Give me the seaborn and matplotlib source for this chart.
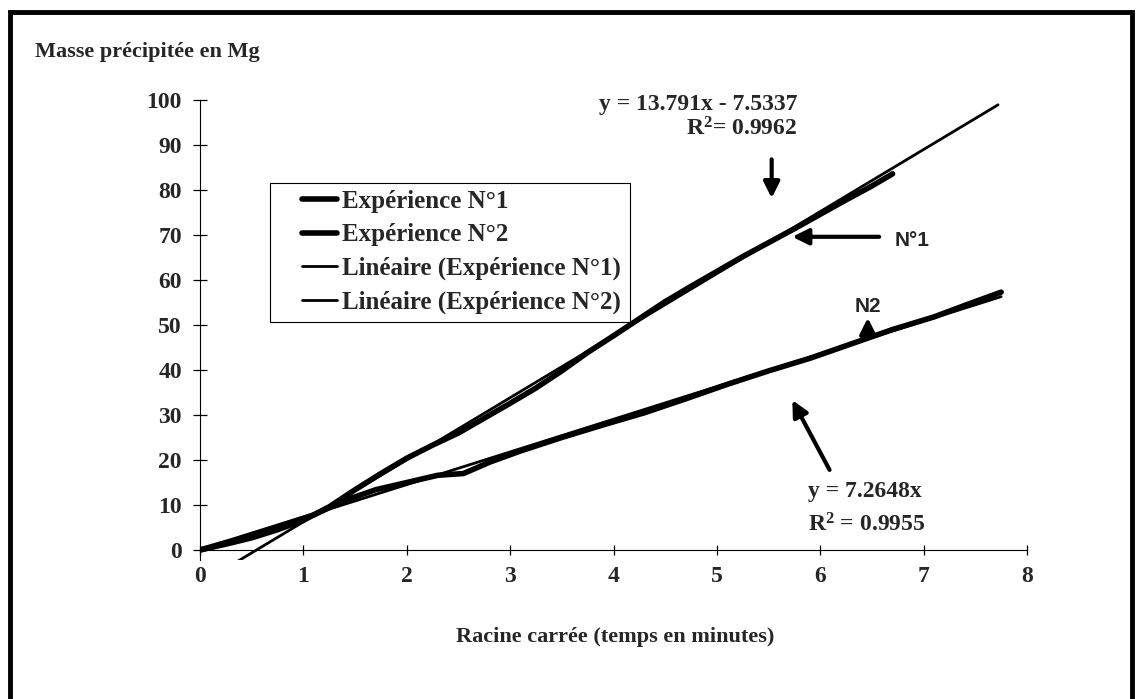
import matplotlib
matplotlib.use("Agg")
import matplotlib.pyplot as plt
import seaborn as sns
import numpy as np
import pandas as pd
from matplotlib.patches import Rectangle

# Precipitated mass vs square root of time, experiment N°1
exp1_x = [0.0, 0.25, 0.5, 0.75, 1.0, 1.25, 1.5, 1.75, 2.0, 2.25, 2.5, 2.75, 3.0,
          3.25, 3.5, 3.75, 4.0, 4.25, 4.5, 4.75, 5.0, 5.25, 5.5, 5.75, 6.0,
          6.25, 6.5, 6.7]
exp1_y = [0.0, 1.3, 2.7, 4.5, 6.6, 9.6, 13.4, 17.0, 20.4, 23.3, 26.0, 29.3, 32.6,
          36.0, 39.8, 43.9, 47.6, 51.4, 55.2, 58.6, 61.9, 65.2, 68.3, 71.4, 74.6,
          77.8, 80.9, 83.6]

# Experiment N°2
exp2_x = [0.0, 0.3, 0.55, 0.8, 1.1, 1.4, 1.7, 2.0, 2.3, 2.55, 2.8, 3.1, 3.5,
          3.9, 4.3, 4.7, 5.1, 5.5, 5.9, 6.3, 6.7, 7.1, 7.45, 7.75]
exp2_y = [0.0, 2.0, 3.8, 5.6, 7.8, 11.0, 13.4, 15.0, 16.6, 17.0, 19.5, 22.0, 25.0,
          27.8, 30.5, 33.6, 36.8, 39.8, 42.6, 45.8, 49.0, 51.8, 54.8, 57.3]

# Linear trendlines (slope, intercept, R²) and their x extent
fit1_slope, fit1_intercept, fit1_r2 = 13.791, -7.5337, 0.9962
fit2_slope, fit2_intercept, fit2_r2 = 7.2648, 0.0, 0.9955
fit1_span = [0.0, 7.72]
fit2_span = [0.0, 7.75]

x_ticks = [0, 1, 2, 3, 4, 5, 6, 7, 8]
y_ticks = [0, 10, 20, 30, 40, 50, 60, 70, 80, 90, 100]

series_labels = ["Expérience N°1", "Expérience N°2",
                 "Linéaire (Expérience N°1)", "Linéaire (Expérience N°2)"]

sns.set_theme(style="white")
plt.rcParams["font.family"] = ["Liberation Serif", "DejaVu Serif"]
plt.rcParams["font.weight"] = "bold"
plt.rcParams["mathtext.default"] = "regular"

W, H = 1140, 699
fig = plt.figure(figsize=(W / 100, H / 100), dpi=100)
ax = fig.add_axes([200 / W, 1 - 560.35 / H, 827 / W, 460.35 / H])

serif = dict(family=["Liberation Serif", "DejaVu Serif"], weight="bold")
sans = dict(family=["Liberation Sans", "DejaVu Sans"], weight="bold")

# measured curves
sns.lineplot(x=exp1_x, y=exp1_y, ax=ax, color="black", linewidth=4.0,
             sort=False, label=series_labels[0])
sns.lineplot(x=exp2_x, y=exp2_y, ax=ax, color="black", linewidth=4.0,
             sort=False, label=series_labels[1])

# fitted lines
fx1 = np.array(fit1_span)
fx2 = np.array(fit2_span)
sns.lineplot(x=fx1, y=fit1_slope * fx1 + fit1_intercept, ax=ax, color="black",
             linewidth=2.0, label=series_labels[2])
sns.lineplot(x=fx2, y=fit2_slope * fx2 + fit2_intercept, ax=ax, color="black",
             linewidth=2.0, label=series_labels[3])

# axes: the x axis sits at y = 0, plot area reaches a little below it
for side in ("top", "right"):
    ax.spines[side].set_visible(False)
ax.spines["bottom"].set_position(("data", 0))
for side in ("left", "bottom"):
    ax.spines[side].set_color("black")
    ax.spines[side].set_linewidth(0.8)

ax.set_xlim(0, 8)
ax.set_ylim(-2.3, 100)
ax.set_xticks(x_ticks)
ax.set_yticks(y_ticks)
ax.set_xticklabels([str(t) for t in x_ticks], fontsize=17, **serif)
ax.set_yticklabels([str(t) for t in y_ticks], fontsize=17, **serif)
ax.set_xlabel("")
ax.set_ylabel("")
ax.tick_params(axis="y", direction="inout", length=10, width=0.9, color="black",
               pad=8, left=True)
ax.tick_params(axis="x", direction="inout", length=7, width=0.9, color="black",
               pad=8, bottom=True)
ax.patch.set_alpha(0)

# legend with its own box
handles, labels = ax.get_legend_handles_labels()
ax.legend(handles, labels, loc="upper left", bbox_to_anchor=(302 / W, 1 - 190 / H),
          bbox_transform=fig.transFigure, frameon=False, borderpad=0,
          borderaxespad=0, handlelength=1.4, handletextpad=0.2, labelspacing=0.42,
          prop=dict(family="Liberation Serif", weight="bold", size=18))
fig.add_artist(Rectangle((270 / W, 1 - 322 / H), 360 / W, 139 / H, fill=False,
                         edgecolor="black", linewidth=0.8,
                         transform=fig.transFigure))

# equations of the trendlines
ax.text(4.82, 99.1, f"y = {fit1_slope}x - {abs(fit1_intercept)}", ha="center",
        va="center", fontsize=17, **serif)
ax.text(5.24, 93.5, f"R$^2$= {fit1_r2}", ha="center", va="center",
        fontsize=17, **serif)
ax.text(5.88, 12.9, f"y = {fit2_slope}x", ha="left", va="center",
        fontsize=17, **serif)
ax.text(5.88, 5.5, f"R$^2$ = {fit2_r2}", ha="left", va="center",
        fontsize=17, **serif)

# pointer arrows and curve tags
arrow = dict(arrowstyle="-|>", color="black", lw=3, mutation_scale=24,
             shrinkA=0, shrinkB=0)
ax.annotate("", xy=(5.53, 78.2), xytext=(5.53, 86.8), arrowprops=arrow)
ax.annotate("", xy=(5.73, 69.6), xytext=(6.57, 69.6), arrowprops=arrow)
ax.annotate("", xy=(6.46, 51.6), xytext=(6.46, 47.0), arrowprops=arrow)
ax.annotate("", xy=(5.73, 33.3), xytext=(6.09, 17.8), arrowprops=arrow)
ax.text(6.72, 68.7, "N°1", ha="left", va="center", fontsize=15, **sans)
ax.text(6.46, 54.0, "N2", ha="center", va="center", fontsize=15, **sans)

# titles
fig.text(35 / W, 1 - 52 / H, "Masse précipitée en Mg", ha="left", va="center",
         fontsize=16, **serif)
fig.text(615 / W, 1 - 637 / H, "Racine carrée (temps en minutes)", ha="center",
         va="center", fontsize=16, **serif)

# outer frame
fig.add_artist(Rectangle((10 / W, -0.1), 1122 / W, 1.1 - 12 / H, fill=False,
                         edgecolor="black", linewidth=3.5,
                         transform=fig.transFigure, clip_on=False))

fig.savefig("out.png", dpi=100, facecolor="white")
